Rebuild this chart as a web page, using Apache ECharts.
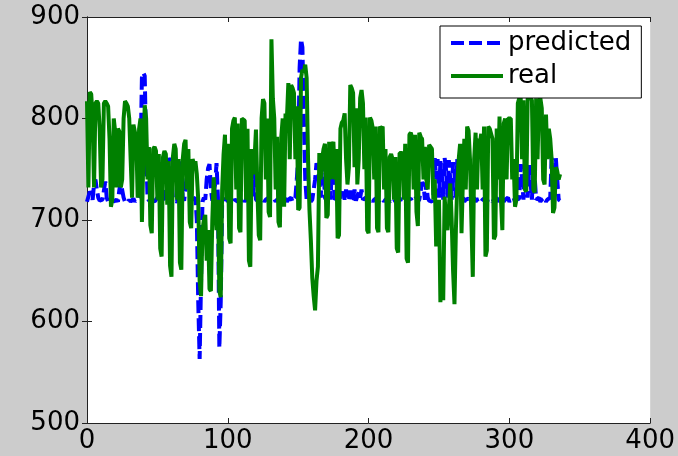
<!DOCTYPE html>
<html>
<head>
<meta charset="utf-8">
<script src="https://cdn.jsdelivr.net/npm/echarts@6/dist/echarts.min.js"></script>
<style>
html,body{margin:0;padding:0;background:#cccccc;}
#chart{width:678px;height:456px;}
</style>
</head>
<body>
<div id="chart"></div>
<script>
// x ticks and y ticks
const xTicks = [0, 100, 200, 300, 400];
const yTicks = [500, 600, 700, 800, 900];
const seriesNames = ['predicted', 'real'];

// predicted values, one per index 0..336
const predicted = [
  718, 719, 728, 726, 720, 735, 740,
  730, 722, 719, 718, 720, 719, 738,
  722, 718, 719, 717, 720, 718, 719,
  720, 718, 730, 737, 736, 722, 718,
  719, 717, 720, 718, 719, 721, 718,
  720, 719, 722, 760, 840, 845, 842,
  770, 722, 719, 718, 720, 719, 718,
  720, 722, 719, 718, 720, 719, 721,
  722, 735, 761, 758, 740, 722, 719,
  720, 718, 740, 757, 755, 722, 719,
  720, 745, 760, 758, 722, 720, 719,
  722, 700, 620, 563, 640, 718, 722,
  720, 740, 751, 755, 730, 719, 720,
  735, 756, 722, 574, 620, 718, 720,
  719, 721, 718, 720, 719, 722, 718,
  720, 719, 718, 721, 720, 719, 722,
  718, 720, 735, 761, 759, 740, 722,
  753, 720, 719, 718, 720, 719, 721,
  718, 720, 719, 722, 718, 720, 719,
  721, 718, 720, 719, 722, 718, 720,
  719, 721, 718, 720, 719, 722, 718,
  720, 722, 740, 760, 850, 878, 870,
  800, 740, 720, 719, 722, 718, 720,
  719, 740, 756, 756, 740, 722, 756,
  750, 722, 719, 756, 745, 720, 756,
  740, 720, 719, 722, 730, 720, 719,
  728, 720, 730, 722, 719, 729, 720,
  722, 730, 719, 720, 728, 722, 730,
  720, 719, 722, 718, 720, 719, 721,
  718, 720, 719, 722, 718, 720, 719,
  721, 718, 720, 719, 722, 718, 720,
  719, 721, 718, 720, 719, 722, 718,
  720, 719, 722, 718, 720, 719, 721,
  718, 720, 719, 722, 718, 720, 719,
  737, 735, 720, 737, 722, 719, 720,
  718, 722, 761, 740, 760, 722, 758,
  745, 720, 761, 750, 722, 759, 740,
  720, 757, 745, 722, 760, 740, 720,
  719, 722, 718, 720, 719, 721, 718,
  720, 719, 722, 718, 720, 719, 721,
  718, 720, 719, 722, 718, 720, 719,
  721, 718, 720, 719, 722, 718, 720,
  719, 721, 718, 720, 719, 722, 718,
  720, 719, 722, 718, 720, 719, 721,
  755, 740, 720, 756, 745, 722, 754,
  738, 720, 755, 742, 720, 719, 722,
  718, 720, 719, 722, 718, 720, 719,
  722, 761, 750, 722, 761, 740, 720,
  719
];

// real values, one per index 0..336
const real = [
  817, 732, 826, 824, 800, 732, 815,
  817, 815, 790, 732, 740, 815, 817,
  815, 812, 780, 713, 720, 800, 787,
  732, 790, 787, 732, 740, 800, 817,
  815, 812, 800, 760, 722, 794, 794,
  780, 722, 790, 800, 698, 760, 813,
  800, 740, 772, 695, 687, 770, 772,
  768, 720, 765, 672, 664, 762, 768,
  765, 715, 758, 655, 644, 762, 775,
  770, 720, 760, 658, 651, 760, 775,
  779, 730, 770, 698, 692, 760, 755,
  758, 745, 720, 640, 625, 690, 700,
  705, 660, 690, 632, 630, 700, 742,
  742, 690, 720, 630, 624, 730, 765,
  784, 720, 775, 682, 677, 790, 798,
  801, 730, 795, 692, 688, 800, 801,
  798, 720, 790, 660, 654, 770, 745,
  760, 789, 730, 685, 680, 800, 819,
  815, 740, 800, 708, 703, 878, 820,
  800, 730, 782, 698, 693, 782, 800,
  713, 805, 800, 835, 760, 833, 830,
  825, 760, 812, 710, 712, 840, 848,
  845, 853, 840, 760, 710, 680, 643,
  625, 611, 640, 654, 766, 740, 760,
  770, 775, 702, 705, 777, 740, 772,
  777, 740, 770, 682, 685, 790, 796,
  798, 805, 760, 735, 752, 833, 830,
  825, 752, 810, 735, 760, 820, 828,
  815, 750, 801, 690, 687, 801, 798,
  790, 740, 792, 692, 688, 792, 790,
  792, 730, 770, 692, 688, 762, 765,
  760, 720, 762, 672, 668, 766, 765,
  766, 720, 775, 662, 658, 784, 786,
  780, 730, 784, 708, 694, 786, 782,
  780, 740, 772, 740, 730, 774, 772,
  770, 720, 740, 674, 690, 720, 619,
  650, 621, 723, 700, 690, 710, 736,
  700, 650, 617, 690, 736, 760, 775,
  687, 740, 780, 730, 792, 788, 760,
  700, 644, 760, 786, 730, 780, 775,
  785, 730, 792, 664, 670, 792, 790,
  785, 780, 681, 685, 790, 740, 802,
  720, 690, 795, 800, 740, 800, 800,
  800, 740, 760, 713, 720, 815, 820,
  822, 760, 818, 730, 728, 820, 822,
  820, 818, 730, 727, 820, 760, 818,
  820, 810, 740, 735, 804, 760, 790,
  780, 760, 707, 712, 752, 748, 740,
  745
];

const font = 'DejaVu Sans';
const chart = echarts.init(document.getElementById('chart'), null, {renderer: 'canvas'});

const axisLine = {show: true, lineStyle: {color: '#222', width: 1}};
const tick = {show: true, inside: true, length: 5, lineStyle: {color: '#222', width: 1}};

chart.setOption({
  animation: false,
  backgroundColor: '#cccccc',
  grid: {left: 87, right: 27, top: 17, bottom: 33, show: true, backgroundColor: '#ffffff', borderWidth: 0},
  legend: {
    data: seriesNames,
    orient: 'vertical',
    left: 440, top: 26,
    backgroundColor: '#ffffff',
    borderColor: '#000000', borderWidth: 1, borderRadius: 0,
    padding: [4, 10, 9, 9],
    itemWidth: 52, itemHeight: 28, itemGap: 7,
    itemStyle: {opacity: 0},
    lineStyle: {width: 4, opacity: 1},
    textStyle: {fontFamily: font, fontSize: 26, color: '#000'}
  },
  xAxis: [
    {type: 'value', position: 'bottom', min: xTicks[0], max: xTicks[xTicks.length - 1], interval: 100,
     axisLine: axisLine, axisTick: tick, splitLine: {show: false},
     axisLabel: {show: true, margin: 5, fontFamily: font, fontSize: 26, color: '#000'}},
    {type: 'value', position: 'top', min: xTicks[0], max: xTicks[xTicks.length - 1], interval: 100,
     axisLine: axisLine, axisTick: tick, splitLine: {show: false}, axisLabel: {show: false}}
  ],
  yAxis: [
    {type: 'value', position: 'left', min: yTicks[0], max: yTicks[yTicks.length - 1], interval: 100,
     axisLine: axisLine, axisTick: tick, splitLine: {show: false},
     axisLabel: {show: true, margin: 7, fontFamily: font, fontSize: 26, color: '#000'}},
    {type: 'value', position: 'right', min: yTicks[0], max: yTicks[yTicks.length - 1], interval: 100,
     axisLine: axisLine, axisTick: tick, splitLine: {show: false}, axisLabel: {show: false}}
  ],
  series: [
    {name: seriesNames[0], type: 'line', symbol: 'none', z: 2,
     data: predicted.map((v, i) => [i, v]),
     lineStyle: {color: '#0000ff', width: 4, type: [13, 5]},
     itemStyle: {color: '#0000ff'}},
    {name: seriesNames[1], type: 'line', symbol: 'none', z: 3,
     data: real.map((v, i) => [i, v]),
     lineStyle: {color: '#008000', width: 4},
     itemStyle: {color: '#008000'}}
  ]
});
</script>
</body>
</html>
